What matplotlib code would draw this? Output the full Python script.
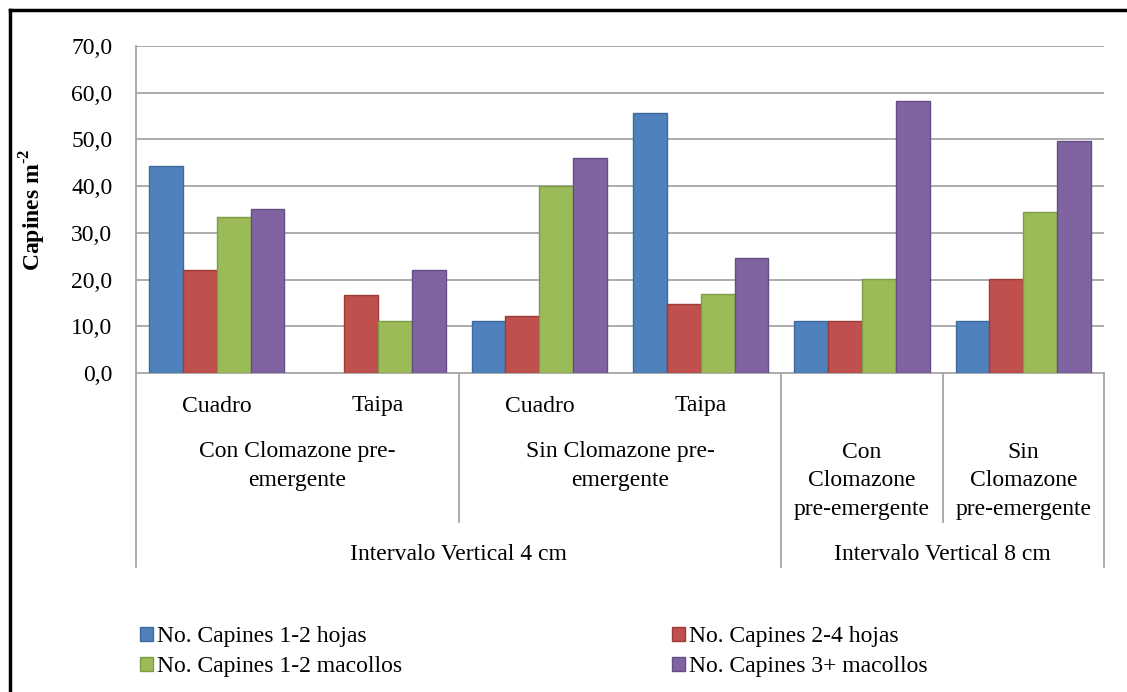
import matplotlib
matplotlib.use("Agg")
import matplotlib.pyplot as plt
import numpy as np
from matplotlib.lines import Line2D

plt.rcParams['font.family'] = ['Liberation Serif', 'DejaVu Serif']
plt.rcParams['mathtext.fontset'] = 'custom'
plt.rcParams['mathtext.rm'] = 'Liberation Serif'
plt.rcParams['mathtext.bf'] = 'Liberation Serif:bold'

# ---- data ----
level1 = ["Cuadro", "Taipa", "Cuadro", "Taipa", "", ""]
level2 = ["Con Clomazone pre-\nemergente", "Sin Clomazone pre-\nemergente",
          "Con\nClomazone\npre-emergente", "Sin\nClomazone\npre-emergente"]
level3 = ["Intervalo Vertical 4 cm", "Intervalo Vertical 8 cm"]
series_names = ["No. Capines 1-2 hojas", "No. Capines 2-4 hojas",
                "No. Capines 1-2 macollos", "No. Capines 3+ macollos"]
hojas_1_2 = [44.4, 0.0, 11.1, 55.6, 11.1, 11.1]
hojas_2_4 = [22.0, 16.6, 12.2, 14.8, 11.1, 20.2]
macollos_1_2 = [33.3, 11.1, 40.0, 16.9, 20.2, 34.4]
macollos_3 = [35.1, 22.0, 46.0, 24.7, 58.2, 49.7]
yticks = [0, 10, 20, 30, 40, 50, 60, 70]
ylabels = ["0,0", "10,0", "20,0", "30,0", "40,0", "50,0", "60,0", "70,0"]

colors = ["#4F81BD", "#C0504D", "#9BBB59", "#8064A2"]
edges = ["#3F6A9C", "#9C3B38", "#7E9B45", "#654E85"]

W, H = 1127, 692
fig = plt.figure(figsize=(W / 100, H / 100), dpi=100)
fig.patch.set_facecolor("white")

ax_l, ax_r, ax_t, ax_b = 136, 1104, 46, 373
ax = fig.add_axes([ax_l / W, 1 - ax_b / H, (ax_r - ax_l) / W, (ax_b - ax_t) / H])

n = len(level1)
x = np.arange(n)
bw = 0.21
allvals = [hojas_1_2, hojas_2_4, macollos_1_2, macollos_3]
handles = []
for i, (vals, c, e, name) in enumerate(zip(allvals, colors, edges, series_names)):
    bars = ax.bar(x + (i - 1.5) * bw, vals, bw, color=c, edgecolor=e,
                  linewidth=1.0, label=name, zorder=3)
    for b, v in zip(bars, vals):
        if v == 0:
            b.set_visible(False)
    handles.append(bars)

ax.set_xlim(-0.5, n - 0.5)
ax.set_ylim(0, 70)
ax.set_yticks(yticks)
ax.set_yticklabels(ylabels, fontsize=17)
ax.tick_params(axis='y', length=0, pad=17)
ax.set_xticks([])
grid_c = "#A6A6A6"
for yv in yticks[1:]:
    ax.axhline(yv, color=grid_c, linewidth=1.3, zorder=1)
for s in ["top", "right"]:
    ax.spines[s].set_visible(False)
ax.spines["left"].set_color(grid_c)
ax.spines["left"].set_linewidth(1.3)
ax.spines["bottom"].set_color(grid_c)
ax.spines["bottom"].set_linewidth(1.3)

ax.set_ylabel("Capines m$^{\\mathbf{\u20102}}$", fontsize=17, fontweight="bold", labelpad=17)

# multi-level category axis
trans = ax.get_xaxis_transform()
axh = ax_b - ax_t
def fy(py):
    return (ax_b - py) / axh

for xi, lab in zip(x, level1):
    if lab:
        ax.text(xi, fy(406), lab, transform=trans, ha="center", va="center", fontsize=17)
ax.text(0.5, fy(466), level2[0], transform=trans, ha="center", va="center",
        fontsize=17, linespacing=1.45)
ax.text(2.5, fy(466), level2[1], transform=trans, ha="center", va="center",
        fontsize=17, linespacing=1.45)
ax.text(4, fy(481), level2[2], transform=trans, ha="center", va="center",
        fontsize=17, linespacing=1.45)
ax.text(5, fy(481), level2[3], transform=trans, ha="center", va="center",
        fontsize=17, linespacing=1.45)
ax.text(1.5, fy(554), level3[0], transform=trans, ha="center", va="center", fontsize=17)
ax.text(4.5, fy(554), level3[1], transform=trans, ha="center", va="center", fontsize=17)

for xs, ybot in [(-0.5, 567), (1.5, 522), (3.5, 567), (4.5, 522), (5.5, 567)]:
    ax.add_line(Line2D([xs, xs], [0, fy(ybot)], transform=trans, color=grid_c,
                       linewidth=1.3, clip_on=False))

# legend (row-wise order: blue, red / green, purple)
order = [0, 2, 1, 3]
leg = fig.legend(handles=[handles[k] for k in order],
                 labels=[series_names[k] for k in order], ncol=2,
                 loc="upper left", bbox_to_anchor=(140 / W, 1 - 626 / H),
                 frameon=False, fontsize=17, handlelength=0.55, handleheight=0.55,
                 handletextpad=0.15, columnspacing=11.45, labelspacing=0.4,
                 borderaxespad=0, borderpad=0)

# outer border (top & left visible)
fig.add_artist(Line2D([10 / W, 1.0], [1 - 10 / H, 1 - 10 / H], transform=fig.transFigure,
                      color="black", linewidth=2.5))
fig.add_artist(Line2D([10 / W, 10 / W], [0, 1 - 10 / H], transform=fig.transFigure,
                      color="black", linewidth=2.5))

fig.savefig("out.png", dpi=100)
